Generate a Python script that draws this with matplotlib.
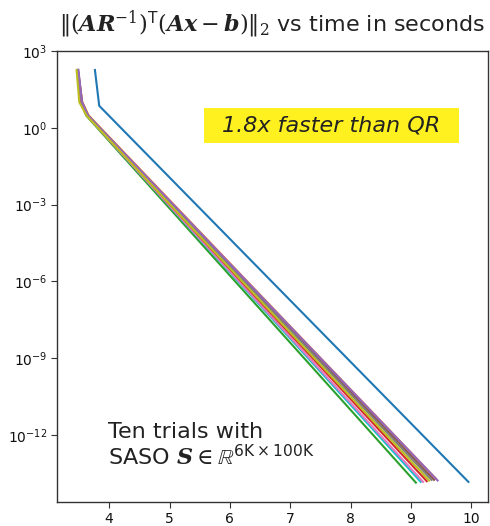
import matplotlib
matplotlib.use("Agg")
import matplotlib.pyplot as plt
from matplotlib.patches import Rectangle

colors = ["C0", "C1", "C2", "C3", "C4", "C5", "C6", "C7", "C8", "C9"]

# vertices (time in seconds) for each trial
t_trials = [
    [3.764, 3.835, 9.95],
    [3.48, 3.555, 3.66, 9.41],
    [3.47, 3.53, 3.62, 9.08],
    [3.475, 3.54, 3.64, 9.26],
    [3.49, 3.55, 3.65, 9.44],
    [3.485, 3.55, 3.65, 9.38],
    [3.47, 3.53, 3.63, 9.20],
    [3.48, 3.545, 3.645, 9.34],
    [3.46, 3.505, 3.625, 9.30],
    [3.475, 3.535, 3.635, 9.16],
]
# residual norms at those vertices
r_trials = [
    [180, 7.2, 1.5e-14],
    [180, 10.0, 3.0, 2.0e-14],
    [180, 10.0, 3.0, 1.4e-14],
    [180, 10.0, 3.0, 1.6e-14],
    [180, 10.0, 3.0, 1.7e-14],
    [180, 10.0, 3.0, 1.8e-14],
    [180, 10.0, 3.0, 1.5e-14],
    [180, 10.0, 3.0, 1.8e-14],
    [180, 10.0, 3.0, 1.7e-14],
    [180, 10.0, 3.0, 1.5e-14],
]

yticks = [1e3, 1e0, 1e-3, 1e-6, 1e-9, 1e-12]
ytick_labels = [r"$10^{3}$", r"$10^{0}$", r"$10^{-3}$", r"$10^{-6}$", r"$10^{-9}$", r"$10^{-12}$"]
xticks = [4, 5, 6, 7, 8, 9, 10]

fig = plt.figure(figsize=(4.9, 5.26), dpi=100)
ax = fig.add_axes([0.1163, 0.046, 0.8796, 0.8572])

for i in [2, 9, 6, 3, 0, 1, 5, 7, 4, 8]:
    ax.plot(t_trials[i], r_trials[i], color=colors[i], lw=1.5)

ax.set_yscale("log")
ax.set_ylim(2.5e-15, 1e3)
ax.set_yticks(yticks)
ax.set_yticklabels(ytick_labels)
ax.yaxis.set_minor_locator(matplotlib.ticker.NullLocator())
ax.set_xticks(xticks)
ax.tick_params(labelsize=10, length=4, pad=3, color="#333333", labelcolor="#111111")
for s in ax.spines.values():
    s.set_color("#333333")
    s.set_linewidth(1.0)

ax.set_title(r"$\|(\mathbfit{AR}^{-1})^{\mathsf{T}}(\mathbfit{Ax}-\mathbfit{b})\|_2$ vs time in seconds",
             fontsize=16, pad=14, color="#222222", math_fontfamily="dejavuserif")

ax.add_patch(Rectangle((0.341, 0.795), 0.592, 0.079, transform=ax.transAxes,
                       facecolor="#FFF01F", edgecolor="none", zorder=3))
ax.text(0.636, 0.834, "1.8x faster than QR", transform=ax.transAxes, ha="center", va="center",
        fontsize=16, style="italic", color="#222222", zorder=4)

ax.text(0.118, 0.141, "Ten trials with", transform=ax.transAxes, ha="left", va="baseline",
        fontsize=16, color="#222222")
ax.text(0.118, 0.082, r"SASO $\mathbfit{S} \in \mathbb{R}^{\mathsf{6K}\times\mathsf{100K}}$",
        transform=ax.transAxes, ha="left", va="baseline", fontsize=16, color="#222222",
        math_fontfamily="dejavuserif")

fig.savefig("out.png", dpi=100)
